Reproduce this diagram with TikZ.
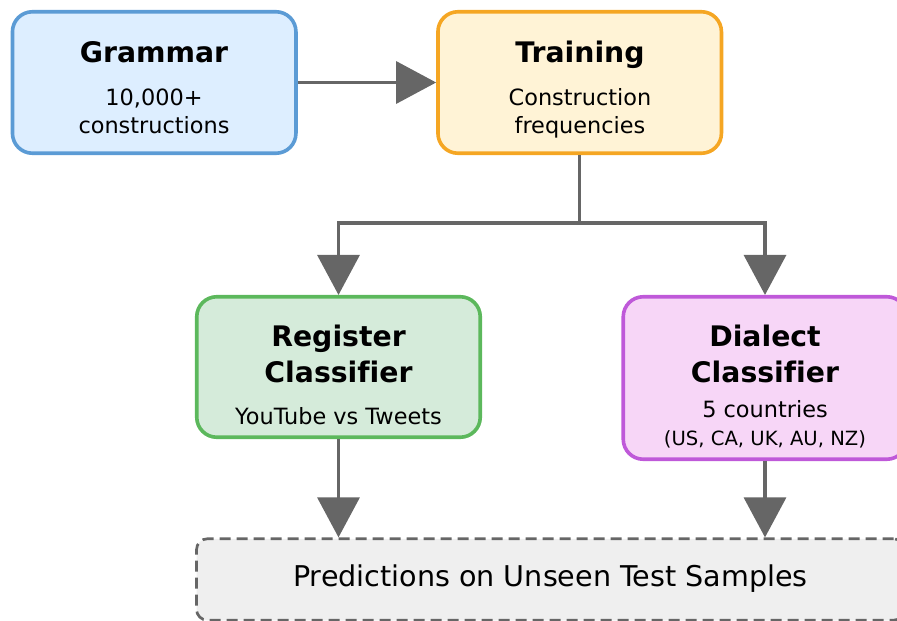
\documentclass[tikz,border=0pt]{standalone}
\usepackage{fontspec}
\setmainfont{DejaVu Sans}[Ligatures=NoCommon]
\usetikzlibrary{arrows.meta}

\definecolor{gramline}{HTML}{5B9BD5}
\definecolor{gramfill}{HTML}{DDEEFF}
\definecolor{trainline}{HTML}{F5A623}
\definecolor{trainfill}{HTML}{FFF3D6}
\definecolor{regline}{HTML}{5CB85C}
\definecolor{regfill}{HTML}{D5EBDA}
\definecolor{dialline}{HTML}{BF59D9}
\definecolor{dialfill}{HTML}{F7D6F7}
\definecolor{predfill}{HTML}{EFEFEF}
\definecolor{connector}{HTML}{666666}

\tikzset{
  stagebox/.style={rectangle, rounded corners=20pt, line width=3.6pt, inner sep=0pt},
  predbox/.style={rectangle, rounded corners=11pt, line width=2.7pt, draw=connector,
    fill=predfill, dash pattern=on 11pt off 6pt, inner sep=0pt},
  titletext/.style={anchor=base, inner sep=0pt, font=\fontsize{28.3}{34}\selectfont\bfseries},
  bodytext/.style={anchor=base, inner sep=0pt, font=\fontsize{22.4}{27}\selectfont},
  smalltext/.style={anchor=base, inner sep=0pt, font=\fontsize{19.6}{24}\selectfont},
  bigtext/.style={anchor=base, inner sep=0pt, font=\fontsize{28.6}{34}\selectfont},
  flow/.style={draw=connector, line width=3.3pt,
    -{Triangle[length=40pt, width=42pt]}, color=connector},
  plainflow/.style={draw=connector, line width=3.3pt},
}

\begin{document}
\begin{tikzpicture}[x=1pt, y=-1pt]
  \useasboundingbox (0,0) rectangle (897,621);
  \clip (0,0) rectangle (897,621);

  % stage boxes
  \node[stagebox, draw=gramline, fill=gramfill, minimum width=283.5pt, minimum height=141.5pt]
    (grammar) at (154.2,82.5) {};
  \node[stagebox, draw=trainline, fill=trainfill, minimum width=283.5pt, minimum height=141.5pt]
    (training) at (579.7,82.5) {};
  \node[stagebox, draw=regline, fill=regfill, minimum width=283.5pt, minimum height=140.5pt]
    (register) at (338.5,367) {};
  \node[stagebox, draw=dialline, fill=dialfill, minimum width=283.5pt, minimum height=162.5pt]
    (dialect) at (765,378) {};
  \node[predbox, minimum width=708pt, minimum height=81.5pt]
    (predictions) at (550.5,579.5) {};

  % box texts
  \node[titletext] (grammar-title) at (154,62) {Grammar};
  \node[bodytext]  (grammar-l1) at (154,105) {10,000+};
  \node[bodytext]  (grammar-l2) at (154,133) {constructions};

  \node[titletext] (training-title) at (580,62) {Training};
  \node[bodytext]  (training-l1) at (580,105) {Construction};
  \node[bodytext]  (training-l2) at (580,133) {frequencies};

  \node[titletext] (register-title1) at (338.5,346) {Register};
  \node[titletext] (register-title2) at (338.5,382) {Classifier};
  \node[bodytext]  (register-l1) at (338.5,424) {YouTube vs Tweets};

  \node[titletext] (dialect-title1) at (765,346) {Dialect};
  \node[titletext] (dialect-title2) at (765,382) {Classifier};
  \node[bodytext]  (dialect-l1) at (765,417) {5 countries};
  \node[smalltext] (dialect-l2) at (765,445) {(US, CA, UK, AU, NZ)};

  \node[bigtext] (predictions-text) at (550.5,586) {Predictions on Unseen Test Samples};

  % connectors
  \coordinate (split) at (579.7,223);
  \draw[flow] (grammar.east) -- (training.west);
  \draw[plainflow] (training.south) -- (split);
  \draw[flow] (split) -| (register.north);
  \draw[flow] (split) -| (dialect.north);
  \draw[flow] (register.south) -- (register.south |- predictions.north);
  \draw[flow] (dialect.south) -- (dialect.south |- predictions.north);
\end{tikzpicture}
\end{document}
